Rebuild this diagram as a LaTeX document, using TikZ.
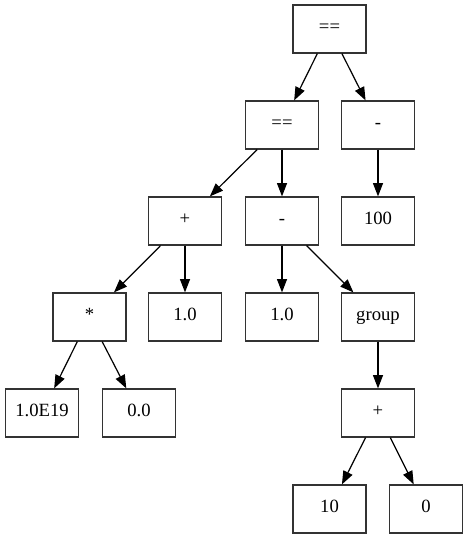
\documentclass[tikz,border=0pt]{standalone}
\usepackage{fontspec}
\setmainfont{Liberation Serif}
\usetikzlibrary{arrows.meta}

\tikzset{
    opbox/.style={draw=black!80, line width=0.9pt, minimum width=54.75pt, minimum height=36pt, inner sep=0pt, text height=1.6ex, text depth=0.3ex, font=\fontsize{14}{16}\selectfont},
    edge/.style={line width=0.9pt, -{Triangle[length=10pt, width=7.5pt]}}
}

\begin{document}
\begin{tikzpicture}[x=0.75pt, y=-0.75pt]
    \useasboundingbox (0, 0) rectangle (467, 539);

    % Draw the nodes, row by row
    \node[opbox] (eqroot) at (329.5, 29) {==};

    \node[opbox] (eqleft) at (282, 125) {==};
    \node[opbox] (minusright) at (378, 125) {-};

    \node[opbox] (plus) at (185, 221) {+};
    \node[opbox] (minusmid) at (282, 221) {-};
    \node[opbox] (hundred) at (378, 221) {100};

    \node[opbox] (times) at (89.5, 317) {*};
    \node[opbox] (oneleft) at (185, 317) {1.0};
    \node[opbox] (onemid) at (282, 317) {1.0};
    \node[opbox] (group) at (378, 317) {group};

    \node[opbox] (bigval) at (42, 413) {1.0E19};
    \node[opbox] (zerozero) at (139, 413) {0.0};
    \node[opbox] (plusgroup) at (378, 413) {+};

    \node[opbox] (ten) at (329.5, 509) {10};
    \node[opbox] (zero) at (426, 509) {0};

    % Draw the edges
    \draw[edge] (eqroot) -- (eqleft);
    \draw[edge] (eqroot) -- (minusright);
    \draw[edge] (eqleft) -- (plus);
    \draw[edge] (eqleft) -- (minusmid);
    \draw[edge] (minusright) -- (hundred);
    \draw[edge] (plus) -- (times);
    \draw[edge] (plus) -- (oneleft);
    \draw[edge] (minusmid) -- (onemid);
    \draw[edge] (minusmid) -- (group);
    \draw[edge] (times) -- (bigval);
    \draw[edge] (times) -- (zerozero);
    \draw[edge] (group) -- (plusgroup);
    \draw[edge] (plusgroup) -- (ten);
    \draw[edge] (plusgroup) -- (zero);
\end{tikzpicture}
\end{document}
